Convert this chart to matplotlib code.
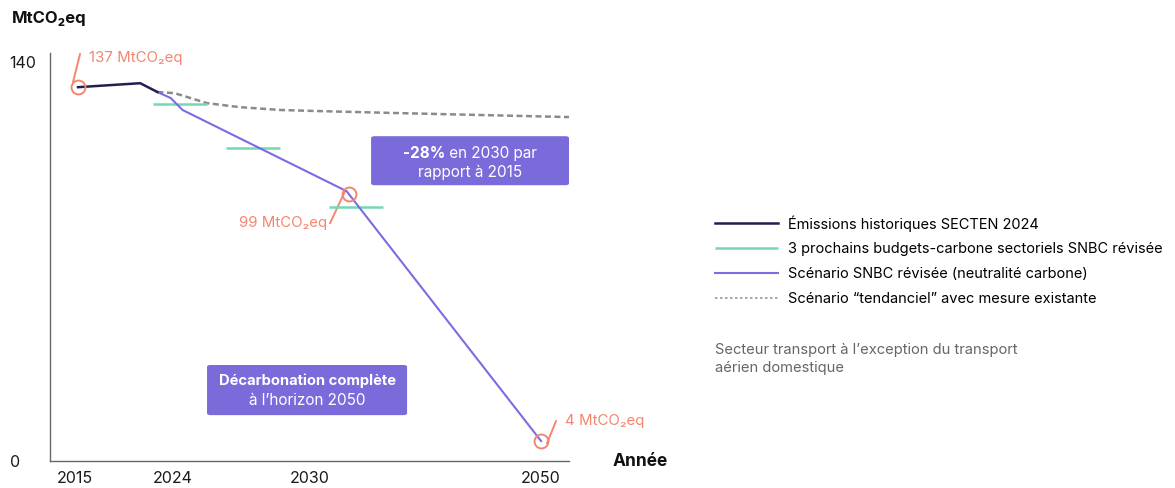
import matplotlib
matplotlib.use("Agg")
import matplotlib.pyplot as plt
from matplotlib.patches import FancyBboxPatch
from matplotlib.lines import Line2D

plt.rcParams['font.family'] = ['Inter', 'DejaVu Sans']

# ---------------- data ----------------
hist_x = [2015.0, 2019.7, 2021.0]
hist_y = [131.2, 132.6, 129.5]

trend_x = [2021.0, 2022.3, 2024.75, 2027.2, 2030.3, 2033.3, 2039.3, 2052.2]
trend_y = [129.5, 129.1, 125.6, 124.2, 123.2, 122.8, 122.1, 120.7]

snbc_x = [2021.0, 2022.0, 2022.9, 2035.3, 2050.0]
snbc_y = [129.5, 127.4, 123.2, 94.7, 7.0]

budget_start = [2020.7, 2026.2, 2034.0]
budget_end = [2024.75, 2030.3, 2038.05]
budget_val = [125.3, 109.8, 89.1]

key_x = [2015.0, 2035.5, 2050.0]
key_y = [131.2, 93.7, 7.0]
key_labels = ["137 MtCO₂eq", "99 MtCO₂eq", "4 MtCO₂eq"]

tick_labels_x = ["2015", "2024", "2030", "2050"]
tick_labels_y = ["0", "140"]

legend_labels = ["Émissions historiques SECTEN 2024",
                 "3 prochains budgets-carbone sectoriels SNBC révisée",
                 "Scénario SNBC révisée (neutralité carbone)",
                 "Scénario “tendanciel” avec mesure existante"]

# ---------------- styles / positions ----------------
C_HIST = "#221f4f"
C_GREEN = "#72d9b4"
C_SNBC = "#7b6ce0"
C_TREND = "#8a8a8a"
C_SALMON = "#f4866f"
C_BOX = "#7a6bdb"

tick_pos_x = [2014.77, 2022.18, 2032.54, 2050.0]
tick_pos_y = [0, 140]

fig = plt.figure(figsize=(11.75, 4.88), dpi=100)
ax = fig.add_axes([50 / 1175, 27 / 488, 519 / 1175, 408 / 488])
ax.set_xlim(2012.88, 2052.11)
ax.set_ylim(0, 143.2)

l_trend, = ax.plot(trend_x, trend_y, color=C_TREND, lw=1.8,
                   linestyle=(0, (2.4, 1.4)), zorder=2)
l_green = None
for s, e, v in zip(budget_start, budget_end, budget_val):
    l_green, = ax.plot([s, e], [v, v], color=C_GREEN, lw=1.8, zorder=3,
                       solid_capstyle='butt')
l_snbc, = ax.plot(snbc_x, snbc_y, color=C_SNBC, lw=1.5, zorder=4)
l_hist, = ax.plot(hist_x, hist_y, color=C_HIST, lw=1.8, zorder=5)

ax.plot(key_x, key_y, linestyle='none', marker='o', markersize=10,
        markerfacecolor='none', markeredgecolor=C_SALMON,
        markeredgewidth=1.4, zorder=6, clip_on=False)

# annotation tails
ax.plot([2014.62, 2015.15], [133.0, 142.8], color=C_SALMON, lw=1.4, clip_on=False)
ax.plot([2035.18, 2034.05], [94.7, 83.5], color=C_SALMON, lw=1.4, clip_on=False)
ax.plot([2050.45, 2051.13], [6.3, 14.0], color=C_SALMON, lw=1.4, clip_on=False)

ax.text(2015.83, 141.4, key_labels[0], color=C_SALMON, fontsize=10.8,
        ha='left', va='center', clip_on=False)
ax.text(2033.82, 83.5, key_labels[1], color=C_SALMON, fontsize=10.8,
        ha='right', va='center')
ax.text(2051.81, 14.0, key_labels[2], color=C_SALMON, fontsize=10.8,
        ha='left', va='center', clip_on=False)

# boxes
b1 = FancyBboxPatch((2037.15, 96.8), 2052.11 - 2037.15, 114.0 - 96.8,
                    boxstyle="round,pad=0,rounding_size=0.25",
                    facecolor=C_BOX, edgecolor='none', zorder=7, clip_on=False,
                    mutation_aspect=2.5)
ax.add_patch(b1)
cx1 = (2037.15 + 2052.11) / 2
y1 = (461 - 153) / 2.85
t_bold = ax.text(cx1, y1, "-28%", color='white', fontsize=11,
                 fontweight='bold', ha='left', va='center', zorder=8)
t_norm = ax.text(cx1, y1, " en 2030 par", color='white', fontsize=11,
                 ha='left', va='center', zorder=8)
ax.text(cx1, (461 - 172) / 2.85, "rapport à 2015", color='white',
        fontsize=11, ha='center', va='center', zorder=8)

b2 = FancyBboxPatch((2024.75, 16.1), 2039.87 - 2024.75, 33.7 - 16.1,
                    boxstyle="round,pad=0,rounding_size=0.25",
                    facecolor=C_BOX, edgecolor='none', zorder=7,
                    mutation_aspect=2.5)
ax.add_patch(b2)
cx2 = (2024.75 + 2039.87) / 2
ax.text(cx2, (461 - 381) / 2.85, "Décarbonation complète", color='white',
        fontsize=10.6, fontweight='bold', ha='center', va='center', zorder=8)
ax.text(cx2, (461 - 400) / 2.85, "à l’horizon 2050", color='white',
        fontsize=11, ha='center', va='center', zorder=8)

# axes styling
for sp in ['top', 'right']:
    ax.spines[sp].set_visible(False)
for sp in ['left', 'bottom']:
    ax.spines[sp].set_color('#666666')
    ax.spines[sp].set_linewidth(1.0)
ax.set_xticks(tick_pos_x)
ax.set_xticklabels(tick_labels_x)
ax.set_yticks(tick_pos_y)
ax.set_yticklabels(tick_labels_y)
ax.tick_params(axis='both', length=0, labelsize=11.5, colors='#1a1a1a')
ax.tick_params(axis='x', pad=7)
ax.tick_params(axis='y', pad=29)
for lab in ax.get_yticklabels():
    lab.set_horizontalalignment('left')

fig.text(12 / 1175, 1 - 18 / 488, "MtCO₂eq", fontsize=12, fontweight='bold',
         ha='left', va='center', color='#111111')
fig.text(613 / 1175, 1 - 462 / 488, "Année", fontsize=12.5, fontweight='bold',
         ha='left', va='center', color='#111111')

h_trend = Line2D([], [], color='#999999', lw=1.2, linestyle=(0, (1.5, 1.5)))
fig.legend([l_hist, l_green, l_snbc, h_trend], legend_labels,
           loc='upper left', bbox_to_anchor=(715 / 1175, 1 - 215 / 488),
           frameon=False, fontsize=10.5, handlelength=4.3, handletextpad=0.68,
           labelspacing=0.74, borderpad=0, borderaxespad=0)

fig.text(715 / 1175, 1 - 350 / 488, "Secteur transport à l’exception du transport",
         fontsize=10.6, color='#666666', ha='left', va='center')
fig.text(715 / 1175, 1 - 368 / 488, "aérien domestique",
         fontsize=10.6, color='#666666', ha='left', va='center')

# center the mixed bold/normal first line of box 1
fig.canvas.draw()
r = fig.canvas.get_renderer()
wb = t_bold.get_window_extent(r).width
wn = t_norm.get_window_extent(r).width
x0_disp = ax.transData.transform((cx1, y1))[0] - (wb + wn) / 2
inv = ax.transData.inverted()
xb = inv.transform((x0_disp, 0))[0]
xn = inv.transform((x0_disp + wb, 0))[0]
t_bold.set_x(xb)
t_norm.set_x(xn)

fig.savefig("out.png", dpi=100)
